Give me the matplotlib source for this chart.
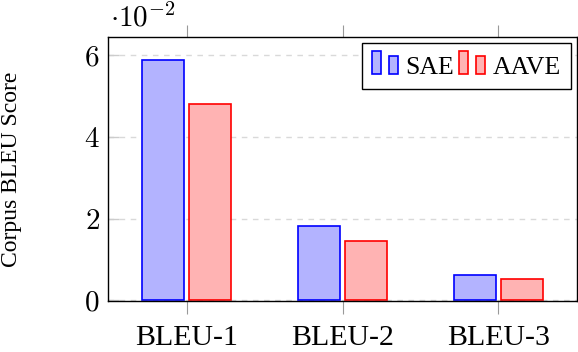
import matplotlib
matplotlib.use("Agg")
import matplotlib.pyplot as plt
from matplotlib.patches import Rectangle
from matplotlib.legend_handler import HandlerBase
import numpy as np

# data (scaled by 1e-2)
CATEGORIES = ['BLEU-1', 'BLEU-2', 'BLEU-3']
SAE = [5.88, 1.81, 0.61]
AAVE = [4.82, 1.44, 0.51]
Y_TICKS = [0, 2, 4, 6]

plt.rcParams['font.family'] = ['Liberation Serif', 'DejaVu Serif']
plt.rcParams['mathtext.fontset'] = 'cm'

fig = plt.figure(figsize=(5.78, 3.52), dpi=100)
ax = fig.add_axes([108 / 578, 1 - 301 / 352, 469 / 578, 264 / 352])

x = np.arange(len(CATEGORIES))
w = 0.27
off = 0.152
b1 = ax.bar(x - off, SAE, w, color=(0.7, 0.7, 1.0), edgecolor='blue', linewidth=1.2, zorder=3)
b2 = ax.bar(x + off, AAVE, w, color=(1.0, 0.7, 0.7), edgecolor='red', linewidth=1.2, zorder=3)

ax.set_xlim(-0.505, 2.505)
ax.set_ylim(-0.02, 6.45)
ax.set_xticks(x)
ax.set_xticklabels(CATEGORIES, fontsize=21.5)
ax.set_yticks(Y_TICKS)
ax.set_yticklabels([f'${t}$' for t in Y_TICKS], fontsize=21)

ax.tick_params(axis='x', direction='out', length=9, width=0.8, color='0.6',
               top=True, pad=8)
ax.tick_params(axis='y', direction='in', length=8, width=1.0, color='0.8', pad=6)
ax.yaxis.grid(True, linestyle=(0, (4, 4)), color='0.85', linewidth=1.0, zorder=0)
for s in ax.spines.values():
    s.set_linewidth(1.0)
    s.set_zorder(4)

ax.set_ylabel('Corpus BLEU Score', fontsize=17, va='center')
ax.yaxis.set_label_coords((12 - 108) / 469, 0.5)
fig.text(110 / 578, 0.99, r'$\cdot 10^{-2}$', fontsize=21, ha='left', va='top')


class TwoBars(HandlerBase):
    """ pgfplots style ybar legend: a tall bar and a short bar """
    def create_artists(self, legend, orig, xd, yd, width, height, fontsize, trans):
        fc = orig.get_facecolor()
        ec = orig.get_edgecolor()
        bw = width * 0.34
        y0 = -yd + 0.1 * fontsize
        r1 = Rectangle((-xd, y0), bw, height, facecolor=fc, edgecolor=ec,
                       linewidth=1.2, transform=trans)
        r2 = Rectangle((-xd + width - bw, y0), bw, height * 0.78, facecolor=fc,
                       edgecolor=ec, linewidth=1.2, transform=trans)
        return [r1, r2]


leg = ax.legend([b1.patches[0], b2.patches[0]], ['SAE', 'AAVE'], ncol=2,
                loc='upper right', handler_map={Rectangle: TwoBars()},
                handlelength=1.0, handleheight=1.0, handletextpad=0.3,
                columnspacing=0.2, fontsize=18.5, fancybox=False,
                edgecolor='black', framealpha=1, borderpad=0.4,
                borderaxespad=0, bbox_to_anchor=(0.988, 0.977))
leg.get_frame().set_linewidth(1.0)

fig.savefig('out.png', dpi=100)
